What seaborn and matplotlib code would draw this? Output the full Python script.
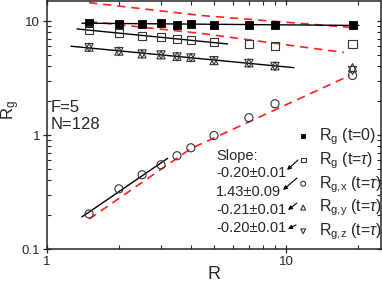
import numpy as np
import pandas as pd
import matplotlib
matplotlib.use("Agg")
import matplotlib.pyplot as plt
import matplotlib.ticker as mticker
import seaborn as sns

# ---------------- data ----------------
R = [1.5, 2, 2.5, 3, 3.5, 4, 5, 7, 9, 19]
rg_t0 = [9.6, 9.5, 9.5, 9.65, 9.3, 9.35, 9.3, 9.3, 9.3, 9.2]
rg_tau = [8.4, 7.8, 7.4, 7.2, 6.95, 6.85, 6.55, 6.25, 6.0, 6.25]
rgx_tau = [0.203, 0.337, 0.448, 0.548, 0.658, 0.773, 0.99, 1.42, 1.88, 3.33]
rgy_tau = [5.9, 5.45, 5.15, 5.05, 4.9, 4.8, 4.5, 4.3, 4.05, 3.9]
rgz_tau = [5.85, 5.4, 5.15, 5.05, 4.85, 4.75, 4.5, 4.25, 4.0, 3.68]

# red dashed reference curves (R, value)
dash1_R = [1.5, 4.4, 18.7]
dash1_v = [14.5, 11.2, 8.8]
dash2_R = [1.5, 4.4, 17.5]
dash2_v = [9.9, 7.8, 5.3]
dash3_R = [1.5, 4.0, 18.5]
dash3_v = [0.183, 0.76, 3.33]

# power-law fits: number of leading points used, and drawn R-range
fit_t0 = (10, 1.40, 20.2)
fit_tau = (6, 1.335, 5.7)
fit_x = (4, 1.40, 3.2)
fit_y = (9, 1.26, 10.8)

slope_texts = ["-0.20\u00b10.01", "1.43\u00b10.09", "-0.21\u00b10.01", "-0.20\u00b10.01"]
labels = [r"$\mathregular{R_g}$ (t=0)",
          r"$\mathregular{R_g}$ (t=$\tau$)",
          r"$\mathregular{R_{g{,}x}}$ (t=$\tau$)",
          r"$\mathregular{R_{g{,}y}}$ (t=$\tau$)",
          r"$\mathregular{R_{g{,}z}}$ (t=$\tau$)"]

# ---------------- style ----------------
sns.set_style("ticks")
plt.rcParams["font.family"] = ["Liberation Sans", "DejaVu Sans"]
plt.rcParams["mathtext.fontset"] = "custom"
plt.rcParams["mathtext.rm"] = "Liberation Sans"
plt.rcParams["mathtext.it"] = "Liberation Sans:italic"
plt.rcParams["mathtext.bf"] = "Liberation Sans:bold"

fig = plt.figure(figsize=(3.82, 2.83), dpi=100)
ax = fig.add_axes([47 / 382, 34 / 283, 334 / 382, 248 / 283])

df = pd.DataFrame({"R": R, "t0": rg_t0, "tau": rg_tau, "x": rgx_tau,
                   "y": rgy_tau, "z": rgz_tau})

red = "#ff2020"
for dR, dv in [(dash1_R, dash1_v), (dash2_R, dash2_v), (dash3_R, dash3_v)]:
    sns.lineplot(x=dR, y=dv, ax=ax, color=red, lw=1.2, dashes=False,
                 linestyle=(0, (5, 3.5)), zorder=2, estimator=None, sort=False)

def draw_fit(col, spec):
    n, r0, r1 = spec
    lx = np.log10(df["R"].values[:n])
    ly = np.log10(df[col].values[:n])
    b, a = np.polyfit(lx, ly, 1)
    rr = np.array([r0, r1])
    sns.lineplot(x=rr, y=10 ** (a + b * np.log10(rr)), ax=ax, color="black",
                 lw=1.0, zorder=3, estimator=None)

draw_fit("t0", fit_t0)
draw_fit("tau", fit_tau)
draw_fit("x", fit_x)
draw_fit("y", fit_y)

ms = 34
sns.scatterplot(data=df, x="R", y="t0", ax=ax, marker="s", s=ms, color="black",
                edgecolor="black", linewidth=0.6, label=labels[0], zorder=4)
sns.scatterplot(data=df, x="R", y="tau", ax=ax, marker="s", s=ms, facecolor="none",
                edgecolor="#333333", linewidth=0.8, label=labels[1], zorder=4)
sns.scatterplot(data=df, x="R", y="x", ax=ax, marker="o", s=ms, facecolor="none",
                edgecolor="#333333", linewidth=0.8, label=labels[2], zorder=4)
sns.scatterplot(data=df, x="R", y="y", ax=ax, marker="^", s=ms, facecolor="none",
                edgecolor="#333333", linewidth=0.8, label=labels[3], zorder=4)
sns.scatterplot(data=df, x="R", y="z", ax=ax, marker="v", s=ms, facecolor="none",
                edgecolor="#333333", linewidth=0.8, label=labels[4], zorder=4)

ax.set_xscale("log")
ax.set_yscale("log")
ax.set_xlim(1, 25)
ax.set_ylim(0.1, 15)

fmt = mticker.FuncFormatter(lambda v, p: "%g" % v)
ax.xaxis.set_major_formatter(fmt)
ax.yaxis.set_major_formatter(fmt)
ax.xaxis.set_minor_formatter(mticker.NullFormatter())
ax.yaxis.set_minor_formatter(mticker.NullFormatter())
ax.tick_params(which="major", direction="inout", length=6, width=0.9,
               labelsize=9.5, top=True, right=True, pad=2)
ax.tick_params(which="minor", direction="in", length=3, width=0.8,
               top=True, right=True)
for sp in ax.spines.values():
    sp.set_linewidth(1.1)
    sp.set_visible(True)

ax.set_xlabel("R", fontsize=13, labelpad=-1.5)
ax.set_ylabel(r"$\mathregular{R_g}$", fontsize=12)
ax.yaxis.set_label_coords(-0.074, 0.56)

def fx(px):
    return (px - 47) / 334

def fy(py):
    return (249 - py) / 248

leg = ax.legend(loc="lower left", bbox_to_anchor=(fx(292), fy(247)), frameon=False,
                fontsize=11.5, markerscale=0.6, handlelength=0.8, handletextpad=0.6,
                labelspacing=0.2, borderpad=0.2, borderaxespad=0.1)

ax.text(0.01, 0.569, "F=5", transform=ax.transAxes, fontsize=12, va="center")
ax.text(0.01, 0.504, "N=128", transform=ax.transAxes, fontsize=12, va="center")

ax.text(fx(216), fy(156), "Slope:", transform=ax.transAxes, fontsize=10.5, va="center")
rows = [173, 192, 210, 228]
for t, py in zip(slope_texts, rows):
    ax.text(fx(216), fy(py), t, transform=ax.transAxes, fontsize=10.5, va="center")

arrows = [((298, 160), (287, 170)), ((297, 178), (283, 190)),
          ((297, 203), (288, 210)), ((296, 225), (288, 229))]
for (tx, ty), (hx, hy) in arrows:
    ax.annotate("", xy=(fx(hx), fy(hy)), xytext=(fx(tx), fy(ty)),
                xycoords="axes fraction", textcoords="axes fraction",
                arrowprops=dict(arrowstyle="-|>", lw=0.8, color="black",
                                mutation_scale=6, shrinkA=0, shrinkB=0))

fig.savefig("out.png", dpi=100)
